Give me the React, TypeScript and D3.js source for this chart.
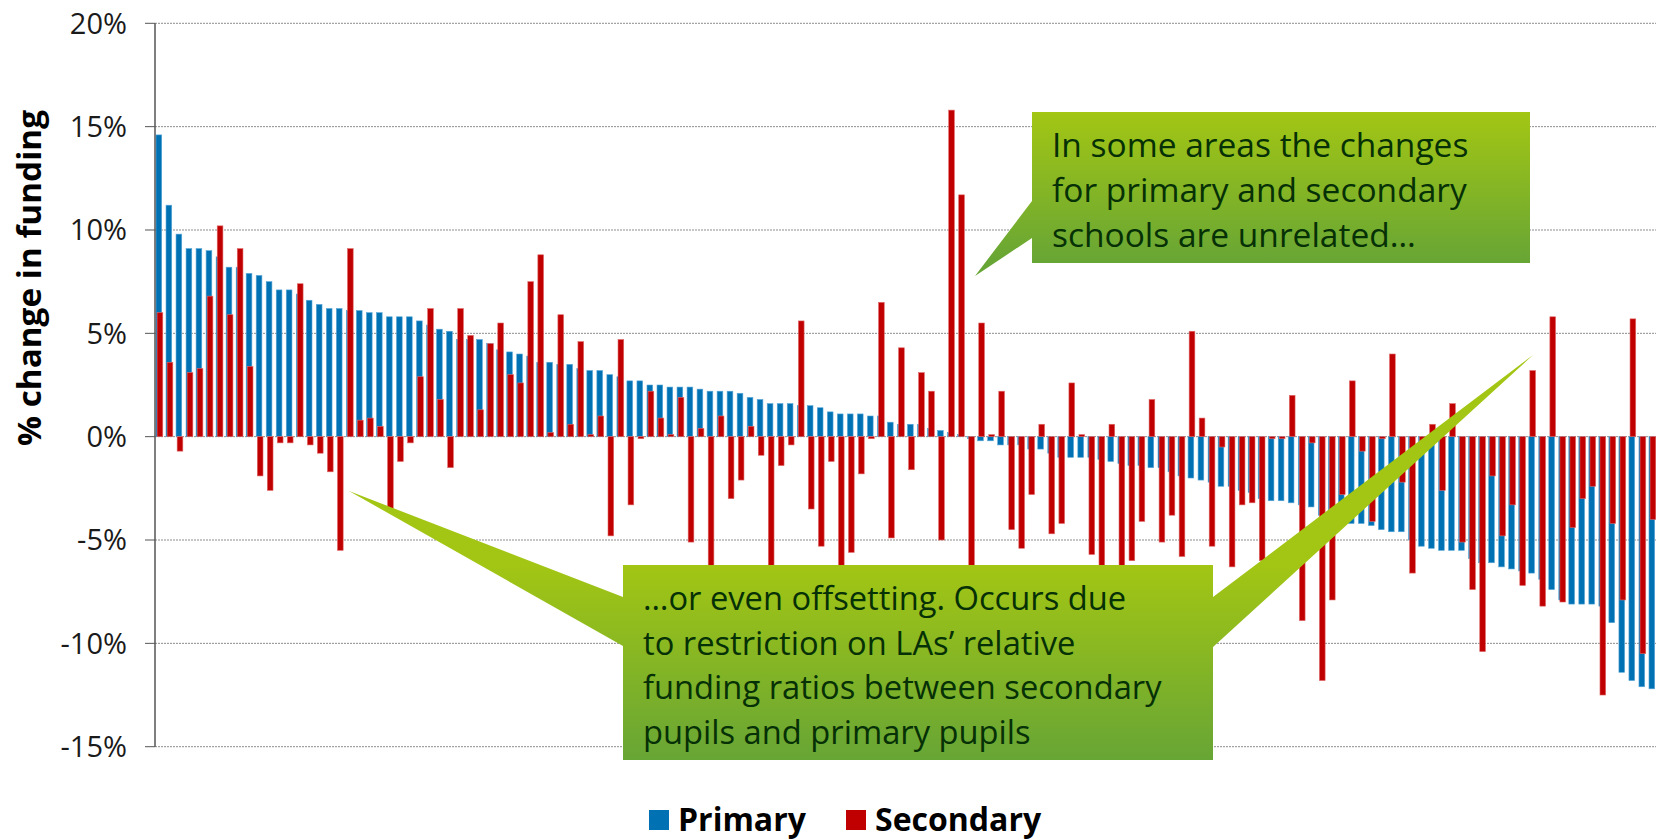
import * as d3 from "d3";

// % change in funding per LA, sorted by the primary change
const primary = [
  14.6, 11.2, 9.8, 9.1, 9.1, 9.0, 8.7, 8.2, 8.2, 7.9,
  7.8, 7.5, 7.1, 7.1, 6.9, 6.6, 6.4, 6.2, 6.2, 6.1,
  6.1, 6.0, 6.0, 5.8, 5.8, 5.8, 5.6, 5.4, 5.2, 5.1,
  4.7, 4.7, 4.7, 4.5, 4.2, 4.1, 4.0, 3.9, 3.6, 3.6,
  3.5, 3.5, 3.3, 3.2, 3.2, 3.0, 2.9, 2.7, 2.7, 2.5,
  2.5, 2.4, 2.4, 2.4, 2.3, 2.2, 2.2, 2.2, 2.1, 1.9,
  1.8, 1.6, 1.6, 1.6, 1.5, 1.5, 1.4, 1.2, 1.1, 1.1,
  1.1, 1.0, 1.0, 0.7, 0.6, 0.6, 0.6, 0.4, 0.3, 0.2,
  0.1, -0.1, -0.2, -0.2, -0.4, -0.4, -0.4, -0.6, -0.6, -0.8,
  -1.0, -1.0, -1.0, -1.0, -1.1, -1.2, -1.3, -1.4, -1.4, -1.5,
  -1.5, -1.7, -1.9, -2.0, -2.1, -2.2, -2.4, -2.4, -2.6, -2.7,
  -3.0, -3.1, -3.1, -3.2, -3.3, -3.4, -3.8, -3.9, -4.0, -4.2,
  -4.2, -4.3, -4.5, -4.6, -4.6, -5.0, -5.3, -5.4, -5.5, -5.5,
  -5.5, -5.9, -6.1, -6.1, -6.3, -6.4, -6.5, -6.6, -6.9, -7.4,
  -7.9, -8.1, -8.1, -8.1, -8.2, -9.0, -11.4, -11.8, -12.1, -12.2,
];

const secondary = [
  6.0, 3.6, -0.7, 3.1, 3.3, 6.8, 10.2, 5.9, 9.1, 3.4,
  -1.9, -2.6, -0.3, -0.3, 7.4, -0.4, -0.8, -1.7, -5.5, 9.1,
  0.8, 0.9, 0.5, -3.5, -1.2, -0.3, 2.9, 6.2, 1.8, -1.5,
  6.2, 4.9, 1.3, 4.5, 5.5, 3.0, 2.6, 7.5, 8.8, 0.2,
  5.9, 0.6, 4.6, 0.1, 1.0, -4.8, 4.7, -3.3, -0.1, 2.2,
  0.9, 0.1, 1.9, -5.1, 0.4, -7.5, 1.0, -3.0, -2.1, 0.5,
  -0.9, -8.0, -1.4, -0.4, 5.6, -3.5, -5.3, -1.2, -7.0, -5.6,
  -1.8, -0.1, 6.5, -4.9, 4.3, -1.6, 3.1, 2.2, -5.0, 15.8,
  11.7, -9.0, 5.5, 0.1, 2.2, -4.5, -5.4, -2.8, 0.6, -4.7,
  -4.2, 2.6, 0.1, -5.7, -6.8, 0.6, -7.0, -6.0, -4.1, 1.8,
  -5.1, -3.8, -5.8, 5.1, 0.9, -5.3, -0.5, -6.3, -3.3, -3.2,
  -6.0, -0.1, -0.1, 2.0, -8.9, -0.3, -11.8, -7.9, -2.8, 2.7,
  -0.7, -4.1, -0.1, 4.0, -2.2, -6.6, -0.3, 0.6, -2.6, 1.6,
  -5.1, -7.4, -10.4, -1.9, -4.8, -3.3, -7.2, 3.2, -8.2, 5.8,
  -8.0, -4.4, -3.0, -2.4, -12.5, -4.2, -7.9, 5.7, -10.5, -4.0,
];

const yTicks = [-15, -10, -5, 0, 5, 10, 15, 20];
const seriesNames = ["Primary", "Secondary"];
const seriesColors = ["#0072b4", "#c00000"];
const seriesEdges = ["#5aa7d8", "#e06a6a"];

const topNote = ["In some areas the changes", "for primary and secondary", "schools are unrelated…"];
const bottomNote = [
  "…or even offsetting. Occurs due",
  "to restriction on LAs’ relative",
  "funding ratios between secondary",
  "pupils and primary pupils",
];

const FONT = "'Open Sans', 'DejaVu Sans', sans-serif";

export default function App() {
  const width = 1656;
  const height = 840;
  const left = 155;

  const x = d3
    .scaleBand<number>()
    .domain(d3.range(primary.length))
    .range([left, 1658]);
  const y = d3.scaleLinear().domain([-15, 20]).range([746.7, 23.3]);
  const barW = 5.7;

  const bar = (v: number) => ({ y: Math.min(y(v), y(0)), h: Math.abs(y(v) - y(0)) });

  // callout shapes (box + pointer)
  const top = d3.path();
  top.moveTo(1032, 112);
  top.lineTo(1530, 112);
  top.lineTo(1530, 263);
  top.lineTo(1032, 263);
  top.lineTo(1032, 238);
  top.lineTo(975, 276);
  top.lineTo(1032, 201);
  top.closePath();

  const bottom = d3.path();
  bottom.moveTo(623, 565);
  bottom.lineTo(1213, 565);
  bottom.lineTo(1213, 597);
  bottom.lineTo(1533, 355);
  bottom.lineTo(1213, 647);
  bottom.lineTo(1213, 760);
  bottom.lineTo(623, 760);
  bottom.lineTo(623, 646);
  bottom.lineTo(349, 491);
  bottom.lineTo(623, 597);
  bottom.closePath();

  return (
    <svg
      width={width}
      height={height}
      style={{ position: "absolute", left: 0, top: 0, display: "block", background: "#fff" }}
      fontFamily={FONT}
    >
      <defs>
        <linearGradient id="gTop" gradientUnits="userSpaceOnUse" x1={0} y1={112} x2={0} y2={263}>
          <stop offset="0" stopColor="#a3c614" />
          <stop offset="1" stopColor="#67a535" />
        </linearGradient>
        <linearGradient id="gBottom" gradientUnits="userSpaceOnUse" x1={0} y1={565} x2={0} y2={760}>
          <stop offset="0" stopColor="#a3c614" />
          <stop offset="1" stopColor="#67a535" />
        </linearGradient>
      </defs>

      {/* grid */}
      {yTicks.map((t) => (
        <g key={t}>
          <line
            x1={left}
            x2={width}
            y1={y(t)}
            y2={y(t)}
            stroke="#8c8c8c"
            strokeWidth={1}
            strokeDasharray="2,1"
          />
          <line x1={left - 10} x2={left} y1={y(t)} y2={y(t)} stroke="#555" strokeWidth={1} />
          <text
            x={127}
            y={y(t)}
            dy="0.36em"
            textAnchor="end"
            fontSize={29}
            fill="#1a1a1a"
          >
            {`${t}%`}
          </text>
        </g>
      ))}

      {/* bars */}
      {primary.map((v, i) => {
        const b = bar(v);
        return (
          <rect
            key={`p${i}`}
            x={(x(i) ?? 0) + 1}
            y={b.y}
            width={barW}
            height={b.h}
            fill={seriesColors[0]}
            stroke={seriesEdges[0]}
            strokeWidth={0.6}
          />
        );
      })}
      {secondary.map((v, i) => {
        const b = bar(v);
        return (
          <rect
            key={`s${i}`}
            x={(x(i) ?? 0) + 2.1}
            y={b.y}
            width={barW}
            height={b.h}
            fill={seriesColors[1]}
            stroke={seriesEdges[1]}
            strokeWidth={0.6}
          />
        );
      })}

      {/* y axis */}
      <line x1={left} x2={left} y1={y(20)} y2={y(-15)} stroke="#555" strokeWidth={1.5} />
      <text
        transform={`translate(41,${278}) rotate(-90)`}
        textAnchor="middle"
        fontSize={32}
        fontWeight="bold"
        fill="#000"
        textLength={336}
        lengthAdjust="spacingAndGlyphs"
      >
        % change in funding
      </text>

      {/* callouts */}
      <path d={top.toString()} fill="url(#gTop)" />
      {topNote.map((t, i) => (
        <text key={t} x={1052} y={157 + i * 45} fontSize={33.5} fill="#063006">
          {t}
        </text>
      ))}
      <path d={bottom.toString()} fill="url(#gBottom)" />
      {bottomNote.map((t, i) => (
        <text key={t} x={643} y={610 + i * 44.5} fontSize={32.7} fill="#063006">
          {t}
        </text>
      ))}

      {/* legend */}
      <rect x={649} y={810} width={20} height={20} fill={seriesColors[0]} />
      <text x={678} y={831} fontSize={32} fontWeight="bold" fill="#000">
        {seriesNames[0]}
      </text>
      <rect x={846} y={810} width={20} height={20} fill={seriesColors[1]} />
      <text x={875} y={831} fontSize={32} fontWeight="bold" fill="#000">
        {seriesNames[1]}
      </text>
    </svg>
  );
}
